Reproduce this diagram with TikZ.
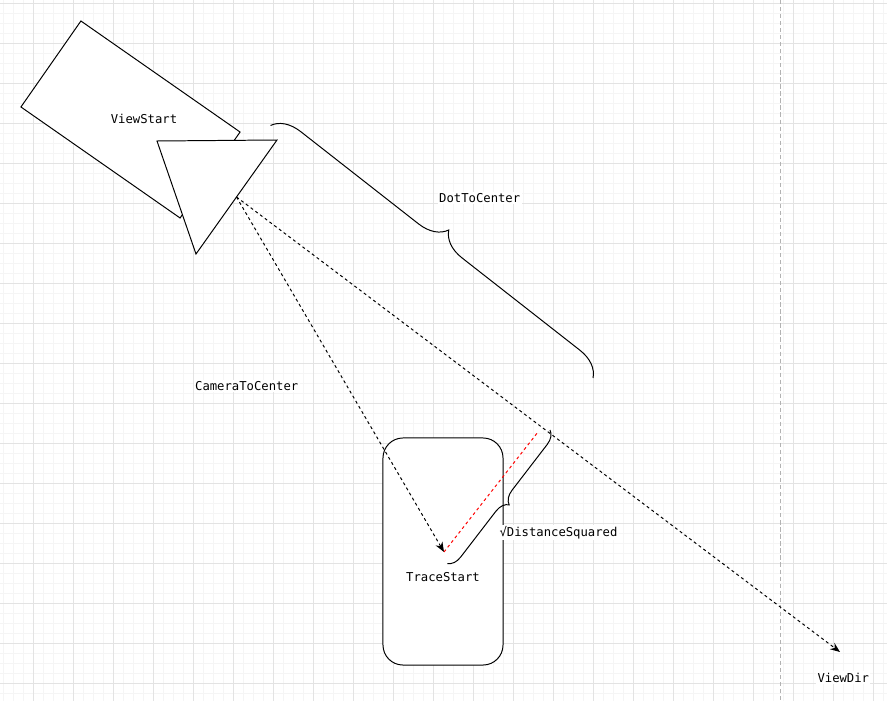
\documentclass[tikz,border=0pt]{standalone}
\usepackage{fontspec}
\setmonofont{DejaVu Sans Mono}
\usetikzlibrary{arrows.meta, decorations.pathreplacing, calc}

\begin{document}
\begin{tikzpicture}[
    x=0.025cm, y=-0.025cm,
    gridminor/.style={draw=black!4, line width=0.7pt},
    gridmajor/.style={draw=black!11, line width=0.7pt},
    shapebox/.style={draw=black, fill=white, line width=0.7pt, inner sep=0pt},
    lbl/.style={font=\ttfamily\fontsize{8.7}{10}\selectfont, fill=white, inner sep=1pt},
    ray/.style={-{Stealth[length=7pt, width=5.5pt]}, dash pattern=on 2.1pt off 2.1pt, line width=0.7pt},
    bracebar/.style={decorate, line width=0.7pt}
]
    % page and grid
    \useasboundingbox (0,0) rectangle (887,701);
    \fill[white] (0,0) rectangle (887,701);
    \foreach \g in {3,13,...,883} \draw[gridminor] (\g,0) -- (\g,701);
    \foreach \g in {3,13,...,693} \draw[gridminor] (0,\g) -- (887,\g);
    \foreach \g in {33,73,...,873} \draw[gridmajor] (\g,0) -- (\g,701);
    \foreach \g in {3,43,...,683} \draw[gridmajor] (0,\g) -- (887,\g);
    \draw[black!30, dash pattern=on 3pt off 2pt, line width=0.7pt] (780,0) -- (780,701);

    % camera body and lens
    \node (vs) [shapebox, rotate=-34.9, minimum width=4.85cm, minimum height=2.62cm] at (130.5,119.5) {};
    \node (vslbl) [lbl] at (144,119) {ViewStart};
    \coordinate (lensA) at (157,141);
    \coordinate (lensB) at (277,140);
    \coordinate (lensC) at (196,254);
    \draw[shapebox] (lensA) -- (lensB) -- (lensC) -- cycle;
    \coordinate (cam) at ($(lensB)!0.5!(lensC)$);

    % trace box
    \node (ts) [shapebox, rounded corners=0.5cm, minimum width=3cm, minimum height=5.675cm] at (443,551.5) {};
    \node (tslbl) [lbl] at (443,577) {TraceStart};

    % rays
    \coordinate (ctr) at (444,552);
    \coordinate (vdir) at (840,652);
    \coordinate (foot) at (538,432);
    \draw[ray] (cam) -- (ctr);
    \draw[ray] (cam) -- (vdir);
    \draw[red, line width=0.7pt, dash pattern=on 2.1pt off 2.1pt] (ctr) -- (foot);

    % braces
    \draw[bracebar, decoration={brace, amplitude=0.69cm}] (270.5,125.5) -- (593,378);
    \draw[bracebar, decoration={brace, amplitude=0.33cm}] (550,430) -- (447,564);

    \node (dtc) [lbl] at (479.7,198) {DotToCenter};
    \node (c2c) [lbl] at (246.7,386) {CameraToCenter};
    \node (dsq) [lbl] at (558.5,532.5) {√DistanceSquared};
    \node (vd) [lbl] at (843.3,677.5) {ViewDir};
\end{tikzpicture}
\end{document}
